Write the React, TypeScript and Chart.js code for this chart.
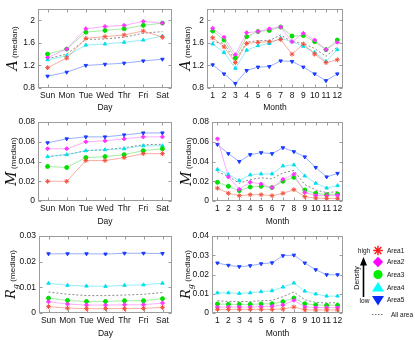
import React, { useEffect, useRef } from 'react';
import { Chart, registerables } from 'chart.js';

Chart.register(...registerables);

const days = ['Sun', 'Mon', 'Tue', 'Wed', 'Thr', 'Fri', 'Sat'];
const months = ['1', '2', '3', '4', '5', '6', '7', '8', '9', '10', '11', '12'];

const aTicks = [0.8, 1.2, 1.6, 2];
const mTicks = [0, 0.02, 0.04, 0.06, 0.08];
const rgDayTicks = [0, 0.01, 0.02, 0.03];
const rgMonthTicks = [0, 0.01, 0.02, 0.03, 0.04];

// A (median) by day
const aDay1 = [1.16, 1.33, 1.68, 1.71, 1.74, 1.81, 1.70];
const aDay2 = [1.34, 1.49, 1.85, 1.89, 1.91, 1.98, 1.95];
const aDay3 = [1.40, 1.49, 1.79, 1.82, 1.85, 1.91, 1.95];
const aDay4 = [1.30, 1.37, 1.56, 1.58, 1.61, 1.65, 1.72];
const aDay5 = [1.01, 1.08, 1.20, 1.22, 1.24, 1.28, 1.31];
const aDayAll = [1.32, 1.40, 1.66, 1.67, 1.70, 1.77, 1.80];

// A (median) by month
const aMon1 = [1.69, 1.53, 1.25, 1.59, 1.61, 1.62, 1.66, 1.40, 1.58, 1.40, 1.25, 1.30];
const aMon2 = [1.86, 1.70, 1.39, 1.78, 1.80, 1.85, 1.88, 1.62, 1.77, 1.65, 1.48, 1.61];
const aMon3 = [1.81, 1.65, 1.33, 1.71, 1.80, 1.82, 1.88, 1.72, 1.73, 1.62, 1.48, 1.65];
const aMon4 = [1.58, 1.43, 1.15, 1.47, 1.55, 1.59, 1.68, 1.62, 1.54, 1.43, 1.27, 1.48];
const aMon5 = [1.21, 1.05, 0.88, 1.11, 1.17, 1.18, 1.28, 1.27, 1.17, 1.05, 0.93, 1.05];
const aMonAll = [1.62, 1.59, 1.28, 1.61, 1.64, 1.64, 1.74, 1.62, 1.59, 1.50, 1.36, 1.53];

// M (median) by day
const mDay1 = [0.020, 0.020, 0.041, 0.041, 0.044, 0.048, 0.048];
const mDay2 = [0.053, 0.053, 0.060, 0.061, 0.063, 0.065, 0.065];
const mDay3 = [0.035, 0.034, 0.044, 0.045, 0.047, 0.051, 0.053];
const mDay4 = [0.045, 0.047, 0.051, 0.052, 0.053, 0.056, 0.056];
const mDay5 = [0.059, 0.063, 0.065, 0.065, 0.067, 0.069, 0.069];
const mDayAll = [0.045, 0.047, 0.051, 0.052, 0.054, 0.057, 0.0575];

// M (median) by month
const mMon1 = [0.013, 0.0078, 0.0054, 0.0064, 0.0064, 0.0054, 0.0078, 0.0115, 0.0044, 0.003, 0.0027, 0.0027];
const mMon2 = [0.063, 0.0244, 0.0119, 0.019, 0.0173, 0.0136, 0.022, 0.027, 0.0085, 0.0058, 0.0054, 0.0058];
const mMon3 = [0.019, 0.0149, 0.0105, 0.0142, 0.0149, 0.0136, 0.020, 0.024, 0.0112, 0.0078, 0.0064, 0.0071];
const mMon4 = [0.032, 0.0268, 0.0207, 0.0265, 0.0275, 0.0275, 0.0356, 0.0366, 0.0254, 0.018, 0.0132, 0.0156];
const mMon5 = [0.0573, 0.048, 0.040, 0.047, 0.049, 0.048, 0.054, 0.050, 0.0447, 0.034, 0.0244, 0.028];
const mMonAll = [0.0296, 0.025, 0.018, 0.0218, 0.0235, 0.0225, 0.0286, 0.031, 0.0166, 0.0112, 0.0085, 0.0095];

// Rg (median) by day
const rDay1 = [0.0025, 0.0019, 0.0017, 0.0017, 0.0017, 0.0018, 0.0022];
const rDay2 = [0.0044, 0.0035, 0.0031, 0.0031, 0.0032, 0.0032, 0.0039];
const rDay3 = [0.0058, 0.0049, 0.0045, 0.0045, 0.0048, 0.0048, 0.0056];
const rDay4 = [0.0116, 0.0108, 0.0105, 0.0104, 0.0108, 0.0110, 0.0116];
const rDay5 = [0.0231, 0.0231, 0.0231, 0.0230, 0.0233, 0.0233, 0.0232];
const rDayAll = [0.0082, 0.0073, 0.0068, 0.0068, 0.0070, 0.0073, 0.0080];

// Rg (median) by month
const rMon1 = [0.0019, 0.0019, 0.0019, 0.0019, 0.0019, 0.0019, 0.0021, 0.0031, 0.0017, 0.0016, 0.0016, 0.0016];
const rMon2 = [0.0031, 0.0031, 0.0031, 0.0031, 0.0033, 0.0035, 0.0042, 0.0066, 0.0031, 0.0029, 0.0028, 0.0028];
const rMon3 = [0.0047, 0.0045, 0.0045, 0.0045, 0.0047, 0.0048, 0.0059, 0.0078, 0.0048, 0.0042, 0.0040, 0.0040];
const rMon4 = [0.0105, 0.0105, 0.0102, 0.0105, 0.0111, 0.0116, 0.0135, 0.0156, 0.0114, 0.0099, 0.0088, 0.0088];
const rMon5 = [0.0260, 0.0248, 0.0241, 0.0246, 0.0256, 0.0261, 0.0298, 0.0301, 0.0260, 0.0225, 0.0199, 0.0199];
const rMonAll = [0.0064, 0.0060, 0.0059, 0.0060, 0.0064, 0.0066, 0.0085, 0.0109, 0.0069, 0.0055, 0.0052, 0.0054];

const areaNames = ['Area1', 'Area2', 'Area3', 'Area4', 'Area5'];
const markerColors = ['#f5503c', '#ff33ff', '#00dd00', '#00e0ee', '#1a3cff'];
const lineColors = ['rgba(245,120,100,0.6)', 'rgba(255,120,255,0.6)', 'rgba(100,225,100,0.6)', 'rgba(80,225,240,0.6)', 'rgba(90,120,255,0.6)'];
const legendColors = ['#ff1a1a', '#ff00ff', '#00ee00', '#00ffff', '#0a2aff'];
const pointStyles = ['star', 'rectRot', 'circle', 'triangle', 'triangle'];
const pointRotations = [0, 0, 0, 0, 180];

const FONT = '"Liberation Sans", Arial, sans-serif';
const TEXT = '#111';

type PanelDef = {
  labels: string[];
  series: number[][];
  all: number[];
  ticks: number[];
  min: number;
  max: number;
  sym: string;
  xTitle: string;
  cx: number; cy: number; cw: number; ch: number;
  bl: number; bt: number; br: number; bb: number;
  yTitleX: number;
  xTitleY: number;
  legend?: boolean;
};

const panels: PanelDef[] = [
  { labels: days, series: [aDay1, aDay2, aDay3, aDay4, aDay5], all: aDayAll, ticks: aTicks, min: 0.8, max: 2.2, sym: 'A', xTitle: 'Day',
    cx: 0, cy: 0, cw: 182, ch: 116, bl: 38, bt: 9, br: 172, bb: 88, yTitleX: 13, xTitleY: 108 },
  { labels: months, series: [aMon1, aMon2, aMon3, aMon4, aMon5], all: aMonAll, ticks: aTicks, min: 0.8, max: 2.2, sym: 'A', xTitle: 'Month',
    cx: 176, cy: 0, cw: 177, ch: 116, bl: 207, bt: 9, br: 343, bb: 88, yTitleX: 186, xTitleY: 108 },
  { labels: days, series: [mDay1, mDay2, mDay3, mDay4, mDay5], all: mDayAll, ticks: mTicks, min: 0, max: 0.08, sym: 'M', xTitle: 'Day',
    cx: 0, cy: 114, cw: 182, ch: 116, bl: 38, bt: 122, br: 172, bb: 201, yTitleX: 12, xTitleY: 222 },
  { labels: months, series: [mMon1, mMon2, mMon3, mMon4, mMon5], all: mMonAll, ticks: mTicks, min: 0, max: 0.08, sym: 'M', xTitle: 'Month',
    cx: 176, cy: 114, cw: 177, ch: 116, bl: 212, bt: 122, br: 343, bb: 201, yTitleX: 186.5, xTitleY: 222 },
  { labels: days, series: [rDay1, rDay2, rDay3, rDay4, rDay5], all: rDayAll, ticks: rgDayTicks, min: 0, max: 0.03, sym: 'R', xTitle: 'Day',
    cx: 0, cy: 228, cw: 182, ch: 112, bl: 39, bt: 236, br: 172, bb: 313, yTitleX: 11, xTitleY: 334 },
  { labels: months, series: [rMon1, rMon2, rMon3, rMon4, rMon5], all: rMonAll, ticks: rgMonthTicks, min: 0, max: 0.04, sym: 'R', xTitle: 'Month',
    cx: 176, cy: 228, cw: 239, ch: 112, bl: 212, bt: 236, br: 343, bb: 313, yTitleX: 186, xTitleY: 334, legend: true },
];

function drawYTitle(ctx: CanvasRenderingContext2D, sym: string, x: number, yc: number) {
  ctx.save();
  ctx.translate(x, yc);
  ctx.rotate(-Math.PI / 2);
  const bigFont = `italic ${sym === 'R' ? 13 : 14}px "DejaVu Serif", serif`;
  const subFont = 'italic 8px "DejaVu Serif", serif';
  const smallFont = `8px ${FONT}`;
  ctx.font = bigFont;
  const wL = ctx.measureText(sym).width;
  let wS = 0;
  if (sym === 'R') {
    ctx.font = subFont;
    wS = ctx.measureText('g').width;
  }
  const gap = 2.5;
  ctx.font = smallFont;
  const wM = ctx.measureText('(median)').width;
  const total = wL + wS + gap + wM;
  let px = -total / 2;
  const base = 4;
  ctx.fillStyle = TEXT;
  ctx.textAlign = 'left';
  ctx.textBaseline = 'alphabetic';
  ctx.font = bigFont;
  ctx.fillText(sym, px, base);
  px += wL;
  if (sym === 'R') {
    ctx.font = subFont;
    ctx.fillText('g', px, base + 3);
    px += wS;
  }
  px += gap;
  ctx.font = smallFont;
  ctx.fillText('(median)', px, base);
  ctx.restore();
}

function drawMarker(ctx: CanvasRenderingContext2D, i: number, x: number, y: number) {
  const c = legendColors[i];
  ctx.save();
  ctx.fillStyle = c;
  ctx.strokeStyle = c;
  ctx.beginPath();
  if (i === 0) {
    ctx.lineWidth = 1.4;
    const r = 4.8;
    for (let k = 0; k < 4; k++) {
      const a = (k * Math.PI) / 4;
      ctx.moveTo(x - r * Math.cos(a), y - r * Math.sin(a));
      ctx.lineTo(x + r * Math.cos(a), y + r * Math.sin(a));
    }
    ctx.stroke();
  } else if (i === 1) {
    const r = 5.2;
    ctx.moveTo(x, y - r);
    ctx.lineTo(x + r, y);
    ctx.lineTo(x, y + r);
    ctx.lineTo(x - r, y);
    ctx.closePath();
    ctx.fill();
  } else if (i === 2) {
    ctx.arc(x, y, 4.6, 0, Math.PI * 2);
    ctx.fill();
  } else if (i === 3) {
    ctx.moveTo(x, y - 5.5);
    ctx.lineTo(x + 6, y + 4);
    ctx.lineTo(x - 6, y + 4);
    ctx.closePath();
    ctx.fill();
  } else {
    ctx.moveTo(x, y + 5.5);
    ctx.lineTo(x + 6, y - 4);
    ctx.lineTo(x - 6, y - 4);
    ctx.closePath();
    ctx.fill();
  }
  ctx.restore();
}

function drawLegend(ctx: CanvasRenderingContext2D, ox: number, oy: number) {
  const X = (v: number) => v - ox;
  const Y = (v: number) => v - oy;
  ctx.save();
  ctx.fillStyle = TEXT;
  ctx.font = `6.5px ${FONT}`;
  ctx.textBaseline = 'middle';
  ctx.textAlign = 'center';
  ctx.fillText('high', X(364), Y(251));
  ctx.fillText('low', X(364.5), Y(301));
  ctx.strokeStyle = '#000';
  ctx.lineWidth = 1.6;
  ctx.beginPath();
  ctx.moveTo(X(363.5), Y(297));
  ctx.lineTo(X(363.5), Y(263));
  ctx.stroke();
  ctx.fillStyle = '#000';
  ctx.beginPath();
  ctx.moveTo(X(363.5), Y(257));
  ctx.lineTo(X(367), Y(265.5));
  ctx.lineTo(X(360), Y(265.5));
  ctx.closePath();
  ctx.fill();
  ctx.save();
  ctx.translate(X(357.5), Y(278));
  ctx.rotate(-Math.PI / 2);
  ctx.fillStyle = TEXT;
  ctx.font = `7px ${FONT}`;
  ctx.textAlign = 'center';
  ctx.textBaseline = 'middle';
  ctx.fillText('Density', 0, 0);
  ctx.restore();
  const rows = [250.5, 262, 274.5, 287.5, 300];
  for (let i = 0; i < 5; i++) {
    drawMarker(ctx, i, X(378), Y(rows[i]));
    ctx.fillStyle = TEXT;
    ctx.font = `6.5px ${FONT}`;
    ctx.textAlign = 'left';
    ctx.textBaseline = 'middle';
    ctx.fillText(areaNames[i], X(387), Y(rows[i] + 0.5));
  }
  ctx.strokeStyle = '#777';
  ctx.lineWidth = 1;
  ctx.setLineDash([1.5, 1.5]);
  ctx.beginPath();
  ctx.moveTo(X(372), Y(314.5));
  ctx.lineTo(X(383), Y(314.5));
  ctx.stroke();
  ctx.setLineDash([]);
  ctx.fillStyle = TEXT;
  ctx.textAlign = 'left';
  ctx.fillText('All area', X(391), Y(315));
  ctx.restore();
}

function fmt(v: number) {
  return String(+(+v).toFixed(3));
}

function Panel({ p }: { p: PanelDef }) {
  const ref = useRef<HTMLCanvasElement | null>(null);
  useEffect(() => {
    const canvas = ref.current;
    if (!canvas) return;
    const datasets: any[] = p.series.map((vals, i) => ({
      label: areaNames[i],
      data: vals,
      borderColor: lineColors[i],
      backgroundColor: markerColors[i],
      pointBackgroundColor: markerColors[i],
      pointBorderColor: markerColors[i],
      pointStyle: pointStyles[i],
      pointRotation: pointRotations[i],
      pointRadius: i === 0 ? 2.4 : 2,
      pointBorderWidth: 1,
      borderWidth: 1,
      tension: 0,
      fill: false,
    }));
    datasets.push({
      label: 'All area',
      data: p.all,
      borderColor: '#8a8a8a',
      borderDash: [2, 2],
      borderWidth: 1,
      pointRadius: 0,
      tension: 0,
      fill: false,
    });
    const framePlugin = {
      id: 'frame',
      beforeDatasetsDraw(chart: any) {
        const { ctx, chartArea } = chart;
        const l = Math.round(chartArea.left) + 0.5;
        const t = Math.round(chartArea.top) + 0.5;
        const r = Math.round(chartArea.right) - 0.5;
        const b = Math.round(chartArea.bottom) - 0.5;
        ctx.save();
        ctx.strokeStyle = '#9c9c9c';
        ctx.lineWidth = 1;
        ctx.strokeRect(l, t, r - l, b - t);
        ctx.beginPath();
        const ys = chart.scales.y;
        for (const v of p.ticks) {
          const py = Math.round(ys.getPixelForValue(v)) + 0.5;
          ctx.moveTo(l, py); ctx.lineTo(l + 3, py);
          ctx.moveTo(r, py); ctx.lineTo(r - 3, py);
        }
        const xs = chart.scales.x;
        for (let i = 0; i < p.labels.length; i++) {
          const px = Math.round(xs.getPixelForValue(i)) + 0.5;
          ctx.moveTo(px, b); ctx.lineTo(px, b - 3);
          ctx.moveTo(px, t); ctx.lineTo(px, t + 3);
        }
        ctx.stroke();
        ctx.restore();
      },
      afterDraw(chart: any) {
        const { ctx, chartArea } = chart;
        drawYTitle(ctx, p.sym, p.yTitleX - p.cx, (chartArea.top + chartArea.bottom) / 2);
        ctx.save();
        ctx.fillStyle = TEXT;
        ctx.font = `8.5px ${FONT}`;
        ctx.textAlign = 'center';
        ctx.textBaseline = 'middle';
        ctx.fillText(p.xTitle, (chartArea.left + chartArea.right) / 2, p.xTitleY - p.cy);
        ctx.restore();
        if (p.legend) drawLegend(ctx, p.cx, p.cy);
      },
    };
    const chart = new Chart(canvas, {
      type: 'line',
      data: { labels: p.labels, datasets },
      options: {
        animation: false,
        responsive: false,
        devicePixelRatio: 1,
        layout: { padding: { left: 0, top: p.bt - p.cy, right: p.cx + p.cw - p.br, bottom: 0 } },
        plugins: { legend: { display: false }, tooltip: { enabled: false } },
        scales: {
          x: {
            type: 'category',
            offset: true,
            grid: { display: false, drawTicks: false },
            border: { display: false },
            ticks: { font: { family: FONT, size: 8.5 }, color: TEXT, padding: 3, maxRotation: 0, autoSkip: false },
            afterFit: (s: any) => { s.height = p.cy + p.ch - p.bb; },
          },
          y: {
            type: 'linear',
            min: p.min,
            max: p.max,
            grid: { display: false, drawTicks: false },
            border: { display: false },
            ticks: { font: { family: FONT, size: 8.5 }, color: TEXT, padding: 3, callback: (v: any) => fmt(v) },
            afterBuildTicks: (s: any) => { s.ticks = p.ticks.map((v) => ({ value: v })); },
            afterFit: (s: any) => { s.width = p.bl - p.cx; },
          },
        },
      } as any,
      plugins: [framePlugin],
    });
    return () => chart.destroy();
  }, [p]);
  return (
    <canvas
      ref={ref}
      width={p.cw}
      height={p.ch}
      style={{ position: 'absolute', left: p.cx, top: p.cy, width: p.cw, height: p.ch }}
    />
  );
}

export default function App() {
  return (
    <div style={{ position: 'fixed', left: 0, top: 0, width: 415, height: 340, background: '#fff', overflow: 'hidden' }}>
      {panels.map((p, i) => (
        <Panel key={i} p={p} />
      ))}
    </div>
  );
}
